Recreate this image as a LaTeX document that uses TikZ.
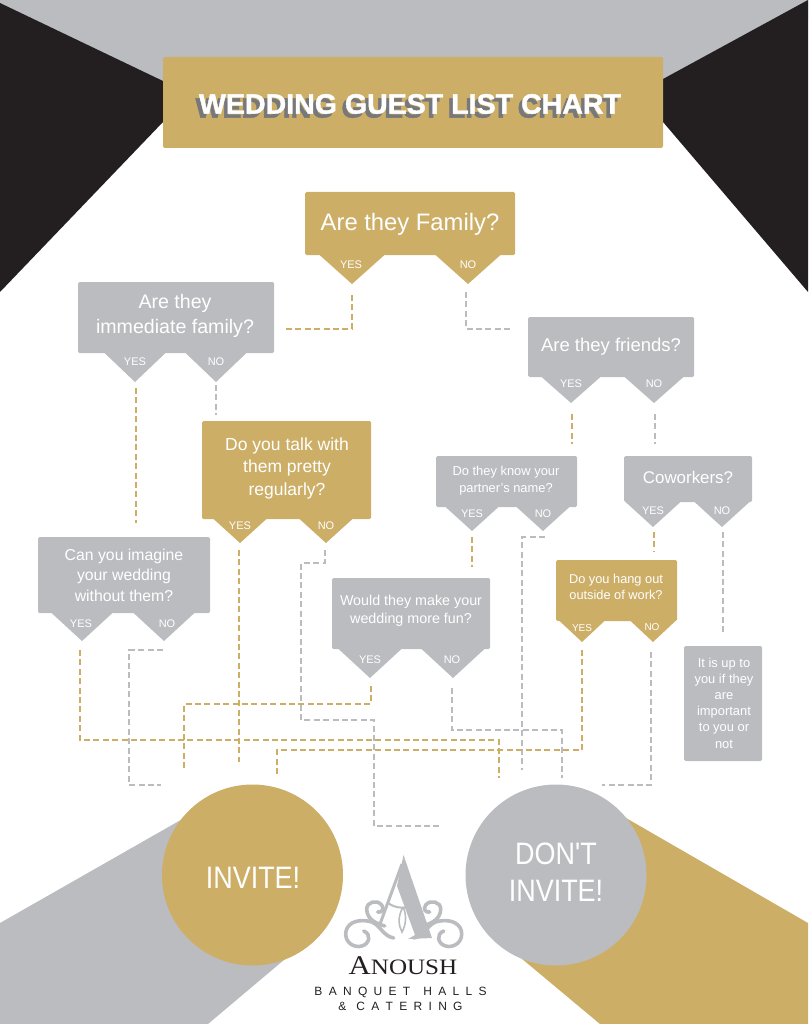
\documentclass[tikz,border=0pt]{standalone}
\usepackage{fontspec}
\setmainfont{Liberation Sans}
\newfontfamily\logofont[FakeStretch=1.14]{Liberation Serif}
\newfontfamily\titulofont[FakeBold=1.4,FakeStretch=1.02]{Liberation Sans Bold}
\newfontfamily\circulofont[FakeStretch=0.87]{Liberation Sans}
\usepackage{xcolor}
\usetikzlibrary{positioning}
\definecolor{oro}{HTML}{CCAE67}
\definecolor{plata}{HTML}{BBBCC0}
\definecolor{carbon}{HTML}{231F20}
\definecolor{sombra}{HTML}{77787B}
\tikzset{
  caja/.style={inner sep=0pt,align=center,text=white,rounded corners=1.5pt},
  oroline/.style={oro,line width=2.6pt,dash pattern=on 6pt off 3.4pt},
  plataline/.style={plata,line width=2.6pt,dash pattern=on 6pt off 3.4pt},
  yn/.style={text=white,font=\fontsize{11}{11}\selectfont,inner sep=0pt},
  rizo/.style={plata,line width=3.6pt,line cap=round}
}
% box corners, two tail tips, tail half width
\newcommand{\pregunta}[9]{%
  \fill[#1,rounded corners=1.5pt] (#2,#3) rectangle (#4,#5);
  \fill[#1] (#6-#9,#5-0.5) -- (#6+#9,#5-0.5) -- (#6,#7) -- cycle;
  \fill[#1] (#8-#9,#5-0.5) -- (#8+#9,#5-0.5) -- (#8,#7) -- cycle;
}
\newcommand{\esp}{\hspace{6.3pt}}
\begin{document}
\begin{tikzpicture}[x=1pt,y=-1pt]
\useasboundingbox (0,0) rectangle (808,1024);
% corners
\fill[plata] (0,0) -- (808,0) -- (808,20) -- (663,100) -- (163,100) -- (0,20) -- cycle;
\fill[carbon] (0,3) -- (163,81) -- (163,122) -- (0,292) -- cycle;
\fill[carbon] (808,0) -- (663,79) -- (663,122) -- (808,292) -- cycle;
\fill[plata] (0,923) -- (186,817) -- (310,938) -- (208,1024) -- (0,1024) -- cycle;
\fill[oro] (626,818) -- (808,923) -- (808,1024) -- (600,1024) -- (497,938) -- cycle;
% title
\fill[oro,rounded corners=2pt] (163,57) rectangle (663,148);
\node[text=sombra,font=\titulofont\fontsize{28}{28}\selectfont,inner sep=0pt] at (406.5,108) {WEDDING GUEST LIST CHART};
\node (titulo) [text=white,font=\titulofont\fontsize{28}{28}\selectfont,inner sep=0pt] at (410,104) {WEDDING GUEST LIST CHART};
% questions
\pregunta{oro}{305}{192}{515}{255}{352}{284}{468}{33}
\node (familia) [caja,font=\fontsize{23.8}{27}\selectfont] at (410,224) {Are they Family?};
\node (familiaY) [yn] at (351,265) {YES};
\node (familiaN) [yn] at (468,265) {NO};
\coordinate (familiaYt) at (352,295);
\coordinate (familiaNt) at (466,292);
\pregunta{plata}{78}{282}{274}{353}{135}{382}{216}{31}
\node (inmediata) [caja,font=\fontsize{19.6}{25}\selectfont] at (175,316) {Are they\\immediate family?};
\node (inmediataY) [yn] at (135,362) {YES};
\node (inmediataN) [yn] at (216,362) {NO};
\coordinate (inmediataYt) at (136,388);
\coordinate (inmediataNt) at (216,385);
\pregunta{plata}{528}{317}{694}{377}{571}{403}{654}{30}
\node (amigos) [caja,font=\fontsize{18.5}{24}\selectfont] at (611,347) {Are they friends?};
\node (amigosY) [yn] at (571,384) {YES};
\node (amigosN) [yn] at (654,384) {NO};
\coordinate (amigosYt) at (572,414);
\coordinate (amigosNt) at (655,414);
\pregunta{oro}{202}{421}{371}{519}{240}{543}{326}{27}
\node (hablar) [caja,font=\fontsize{17.5}{22.5}\selectfont] at (287,468) {Do you talk with\\them pretty\\regularly?};
\node (hablarY) [yn] at (240,526) {YES};
\node (hablarN) [yn] at (326,526) {NO};
\coordinate (hablarYt) at (239,550);
\coordinate (hablarNt) at (325,550);
\pregunta{plata}{436}{456}{577}{507}{472}{531}{543}{27}
\node (pareja) [caja,font=\fontsize{12.9}{17}\selectfont] at (506,481) {Do they know your\\partner's name?};
\node (parejaY) [yn] at (472,514) {YES};
\node (parejaN) [yn] at (543,514) {NO};
\coordinate (parejaYt) at (472,537);
\coordinate (parejaNt) at (545,537);
\pregunta{plata}{624}{456}{752}{502}{653}{527}{722}{28}
\node (colegas) [caja,font=\fontsize{16.9}{20}\selectfont] at (688,477) {Coworkers?};
\node (colegasY) [yn] at (653,511) {YES};
\node (colegasN) [yn] at (722,511) {NO};
\coordinate (colegasYt) at (654,532);
\coordinate (colegasNt) at (723,532);
\pregunta{plata}{38}{537}{210}{613}{82}{641}{164}{31}
\node (imaginar) [caja,font=\fontsize{15.8}{20.5}\selectfont] at (124,575) {Can you imagine\\your wedding\\without them?};
\node (imaginarY) [yn] at (81,624) {YES};
\node (imaginarN) [yn] at (167,624) {NO};
\coordinate (imaginarYt) at (80,650);
\coordinate (imaginarNt) at (163,650);
\pregunta{plata}{332}{578}{490}{649}{370}{678}{453}{32}
\node (divertido) [caja,font=\fontsize{14.3}{18.5}\selectfont] at (411,611) {Would they make your\\wedding more fun?};
\node (divertidoY) [yn] at (370,660) {YES};
\node (divertidoN) [yn] at (452,660) {NO};
\coordinate (divertidoYt) at (371,686);
\coordinate (divertidoNt) at (452,688);
\pregunta{oro}{556}{560}{677}{621}{582}{642}{653}{23}
\node (salir) [caja,font=\fontsize{12.8}{16}\selectfont] at (616,587) {Do you hang out\\outside of work?};
\node (salirY) [yn,font=\fontsize{10}{10}\selectfont] at (582,628) {YES};
\node (salirN) [yn,font=\fontsize{10}{10}\selectfont] at (652,627) {NO};
\coordinate (salirYt) at (582,650);
\coordinate (salirNt) at (651,652);
\fill[plata,rounded corners=1.5pt] (684,646) rectangle (762,761);
\node (importa) [caja,font=\fontsize{12.9}{16.2}\selectfont] at (724,703) {It is up to\\you if they\\are\\important\\to you or\\not};
% circles
\fill[oro] (252.5,875) circle (90.5);
\node (invitar) [caja,font=\circulofont\fontsize{31}{36}\selectfont] at (253,877.5) {INVITE!};
\fill[plata] (556,875) circle (90.5);
\node (noinvitar) [caja,font=\circulofont\fontsize{31}{37}\selectfont] at (556,872.5) {DON'T\\INVITE!};
% free ends
\coordinate (inmediataB) at (136,523);
\coordinate (inmediataC) at (216,415);
\coordinate (amigosB) at (572,444);
\coordinate (amigosC) at (655,444);
\coordinate (parejaB) at (472,567);
\coordinate (colegasB) at (654,552);
\coordinate (colegasC) at (723,632);
% connectors
\draw[oroline] (familiaYt) |- (285,329);
\draw[plataline] (familiaNt) |- (510,329);
\draw[oroline] (inmediataYt) -- (inmediataB);
\draw[plataline] (inmediataNt) -- (inmediataC);
\draw[oroline] (amigosYt) -- (amigosB);
\draw[plataline] (amigosNt) -- (amigosC);
\draw[oroline] (parejaYt) -- (parejaB);
\draw[plataline] (parejaNt) -- (522,537) -- (522,770);
\draw[oroline] (colegasYt) -- (colegasB);
\draw[plataline] (colegasNt) -- (colegasC);
\draw[oroline] (imaginarYt) -- (80,740) -- (499,740) -- (499,778);
\draw[plataline] (imaginarNt) -- (129,650) -- (129,785) -- (161,785);
\draw[oroline] (hablarYt) -- (239,762);
\draw[plataline] (hablarNt) -- (325,563) -- (301,563) -- (301,720) -- (374,720) -- (374,826) -- (440,826);
\draw[oroline] (divertidoYt) -- (371,704) -- (184,704) -- (184,770);
\draw[plataline] (divertidoNt) -- (452,730) -- (562,730) -- (562,778);
\draw[oroline] (salirYt) -- (582,750) -- (277,750) -- (277,775);
\draw[plataline] (salirNt) -- (651,785) -- (602,785);
% logo
\fill[plata] (403.5,855) -- (432,938) -- (408,939) -- (415,935) -- (397,886) -- cycle;
\draw[plata,line width=3pt] (402,864) -- (380,924);
\draw[plata,line width=2pt] (388,903) .. controls (396,909) and (408,909) .. (414,904);
\draw[plata,line width=1.6pt] (403,907) .. controls (397,918) and (399,926) .. (402,932) .. controls (406,925) and (407,915) .. (403,907);
\foreach \s in {1,-1}{
  \begin{scope}[shift={(403.7,0)},xscale=\s]
  \draw[rizo] (-10,938) .. controls (-22,936) and (-24,922) .. (-36,921) .. controls (-48,919) and (-58,924) .. (-58,934) .. controls (-58,944) and (-48,948) .. (-42,946) .. controls (-34,944) and (-32,934) .. (-40,931);
  \draw[rizo] (-19,926) .. controls (-26,924) and (-37,920) .. (-37,909) .. controls (-37,902) and (-27,899) .. (-22,905) .. controls (-19,909) and (-22,913) .. (-26,912);
  \end{scope}
}
\node (anoush) [anchor=base,text=carbon,font=\logofont\fontsize{27}{27}\selectfont,inner sep=0pt] at (403,974) {A\fontsize{22}{22}\selectfont NOUSH};
\node (banquet) [text=carbon,font=\fontsize{12}{12}\selectfont,inner sep=0pt] at (400.5,992) {B\esp A\esp N\esp Q\esp U\esp E\esp T\hspace{13pt}H\esp A\esp L\esp L\esp S};
\node (catering) [text=carbon,font=\fontsize{12}{12}\selectfont,inner sep=0pt] at (400.5,1006) {\&\hspace{10pt}C\esp A\esp T\esp E\esp R\esp I\esp N\esp G};
\end{tikzpicture}
\end{document}
